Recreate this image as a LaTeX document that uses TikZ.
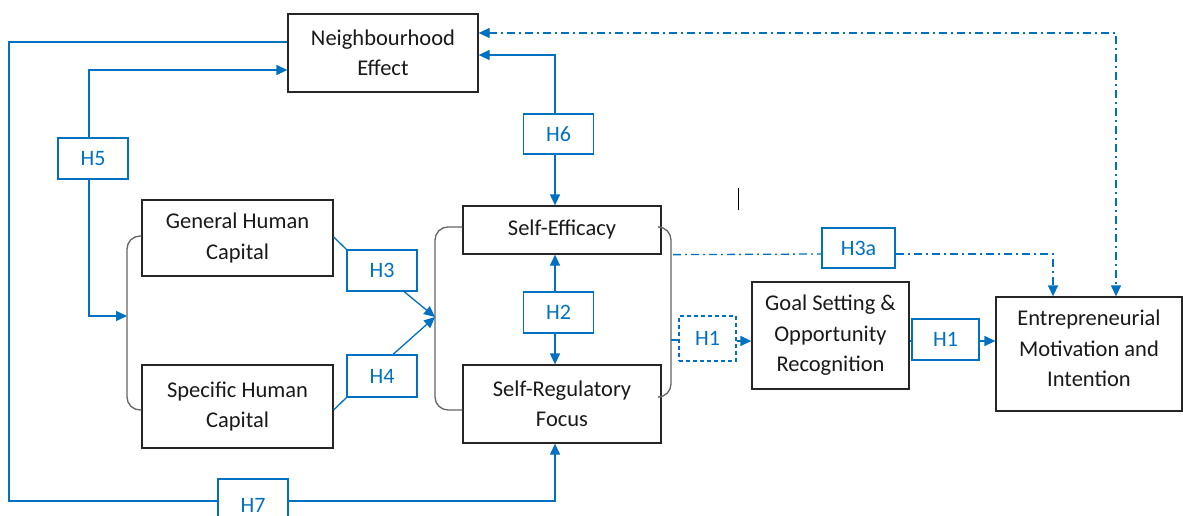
\documentclass[tikz,border=0pt]{standalone}
\usepackage{fontspec}
\setmainfont{Carlito}
\usetikzlibrary{arrows.meta}
\definecolor{linkblue}{RGB}{0,112,192}
\definecolor{framegray}{RGB}{38,38,38}
\definecolor{bracegray}{RGB}{100,100,100}
\definecolor{inktext}{RGB}{25,25,25}
\newcommand\nodefnt{\fontsize{22.5}{30.5}\selectfont}
\newcommand\hypfnt{\fontsize{22}{24}\selectfont}
\tikzset{
  box/.style={draw=framegray, line width=1.3pt, rectangle, inner sep=0pt,
    align=center, text=inktext, font=\nodefnt},
  hyp/.style={draw=linkblue, line width=1.1pt, rectangle, inner sep=0pt,
    text=linkblue, font=\hypfnt, minimum width=70pt, minimum height=41pt},
  conn/.style={draw=linkblue, line width=1.3pt},
  arr/.style={conn, -{Triangle[length=11pt,width=10pt]}},
  dashdot/.style={conn, dash pattern=on 8pt off 4pt on 2pt off 4pt},
  brk/.style={draw=bracegray, line width=1.3pt, rounded corners=13pt},
}
\begin{document}
\begin{tikzpicture}[x=1pt,y=-1pt]
\useasboundingbox (0,0) rectangle (1183,516);

% construct boxes
\node[box, minimum width=190pt, minimum height=78pt] (nb) at (383,53) {Neighbourhood\\Effect};
\node[box, minimum width=191pt, minimum height=76pt] (ghc) at (237.5,238) {General Human\\Capital};
\node[box, minimum width=191pt, minimum height=83pt] (shc) at (237.5,406.5) {Specific Human\\Capital};
\node[box, minimum width=198pt, minimum height=48pt] (se) at (562,230) {Self-Efficacy};
\node[box, minimum width=198pt, minimum height=78pt] (srf) at (562,404) {Self-Regulatory\\Focus};
\node[box, minimum width=157pt, minimum height=107pt] (gs) at (830.5,335.5) {Goal Setting \&\\Opportunity\\Recognition};
\node[box, minimum width=186pt, minimum height=114pt] (emi) at (1089,354) {Entrepreneurial\\Motivation and\\Intention\\[-19pt]};

% hypothesis labels
\node[hyp] (h5) at (93,158.5) {H5};
\node[hyp, minimum height=40pt] (h6) at (558.5,134) {H6};
\node[hyp] (h3) at (382,270.5) {H3};
\node[hyp, minimum height=42pt] (h4) at (382,376) {H4};
\node[hyp] (h2) at (558.5,312.5) {H2};
\node[hyp, minimum width=57pt, minimum height=45pt, dash pattern=on 4pt off 3pt] (h1d) at (707.5,338.5) {H1};
\node[hyp, minimum width=73pt, minimum height=40pt] (h3a) at (858.5,248) {H3a};
\node[hyp, minimum width=67pt] (h1) at (945.5,339.5) {H1};
\node[hyp, minimum height=52pt] (h7) at (253,505) {H7};

% brace joints
\coordinate (lb) at (127,316);
\coordinate (cb) at (435,317);
\coordinate (rb) at (671,340);

% braces grouping the constructs
\draw[brk] (ghc.west |- 0,236) -| (lb) |- (shc.west |- 0,410);
\draw[brk] (se.west |- 0,227) -| (cb) |- (srf.west |- 0,410);
\draw[brk] (se.east |- 0,227) -| (rb) |- (srf.east |- 0,397);

% H7 loop from neighbourhood to self-regulatory focus
\draw[conn] (nb.west |- 0,42) -| (9,501) -- (h7.west |- 0,501);
\draw[arr] (h7.east |- 0,501) -| (srf.south -| 555,0);

% H5
\draw[arr] (h5.north -| 89,0) |- (nb.west |- 0,70);
\draw[arr] (h5.south -| 89,0) |- (lb);

% H3, H4
\draw[conn] (ghc.east |- 0,237) -- (h3.north west);
\draw[arr] (h3.south -| 404,0) -- (cb);
\draw[conn] (shc.east |- 0,410) -- (h4.south west);
\draw[arr] (h4.north -| 393,0) -- (cb);

% H2
\draw[arr] (h2.north -| 555,0) -- (se.south -| 555,0);
\draw[arr] (h2.south -| 555,0) -- (srf.north -| 555,0);

% H6
\draw[arr] (h6.north -| 555,0) |- (nb.east |- 0,55);
\draw[arr] (h6.south -| 555,0) -- (se.north -| 555,0);

% H1 chain
\draw[conn] (rb) -- (h1d.west |- rb);
\draw[arr] (h1d.east |- 0,341) -- (gs.west |- 0,341);
\draw[conn] (gs.east |- 0,341) -- (h1.west |- 0,341);
\draw[arr] (h1.east |- 0,341) -- (emi.west |- 0,341);

% H3a and the neighbourhood link (dash-dotted)
\draw[dashdot] (se.south east -| 673,0) -- (h3a.west |- 0,254);
\draw[dashdot, -{Triangle[length=11pt,width=10pt]}] (h3a.east |- 0,254) -| (emi.north -| 1053,0);
\draw[dashdot, {Triangle[length=11pt,width=10pt]}-{Triangle[length=11pt,width=10pt]}]
  (nb.east |- 0,33) -| (emi.north -| 1116,0);

% text cursor mark
\draw[black, line width=1pt] (738,188) -- (738,210);
\end{tikzpicture}
\end{document}
